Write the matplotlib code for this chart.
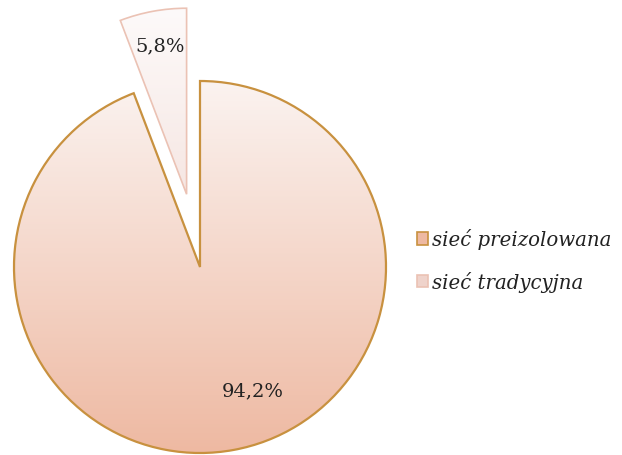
import numpy as np
import matplotlib.pyplot as plt
from matplotlib.patches import Patch

labels = ["sieć preizolowana", "sieć tradycyjna"]
shares = [94.2, 5.8]

edge_colors = ["#c8913f", "#ebc2b4"]
top_colors = ["#fbf3f0", "#fdfafa"]
bottom_colors = ["#eeb9a2", "#efd3cb"]

fig = plt.figure(figsize=(6.22, 4.56), dpi=100)
ax = fig.add_axes([0, 0, 1, 1])

cx, cy, R = 200, 188, 186
wedges, _ = ax.pie(shares, startangle=90, counterclock=False,
                   explode=[0, 74], center=(cx, cy), radius=R,
                   colors=["none", "none"], frame=True,
                   wedgeprops=dict(linewidth=1.6))
ax.set_xlim(0, 622)
ax.set_ylim(0, 456)
ax.set_aspect("equal")
ax.axis("off")
wedges[1].set_linewidth(1.2)


def hex2rgb(h):
    return np.array([int(h[i:i + 2], 16) / 255 for i in (1, 3, 5)])


for w, ec, c0, c1 in zip(wedges, edge_colors, top_colors, bottom_colors):
    w.set_edgecolor(ec)
    w.set_zorder(3)
    x0, y0 = w.center
    t = np.linspace(0, 1, 256)[:, None]
    grad = (1 - t) * hex2rgb(c0) + t * hex2rgb(c1)
    img = np.repeat(grad[:, None, :], 2, axis=1)
    im = ax.imshow(img, extent=(x0 - R, x0 + R, y0 - R, y0 + R),
                   origin="upper", aspect="auto", zorder=2)
    im.set_clip_path(w)

# percentage labels (distance as fraction of radius, angle in degrees)
label_pos = [(0.72, -67), (0.81, 100)]
for w, val, (d, ang) in zip(wedges, shares, label_pos):
    x0, y0 = w.center
    a = np.deg2rad(ang)
    ax.text(x0 + d * R * np.cos(a), y0 + d * R * np.sin(a),
            f"{val:.1f}%".replace(".", ","), ha="center", va="center",
            fontsize=14, family="DejaVu Serif", color="#222222", zorder=4)

handles = [Patch(facecolor=bottom_colors[i], edgecolor=edge_colors[i],
                 linewidth=1.2, label=labels[i]) for i in range(2)]
leg = ax.legend(handles=handles, loc="center left",
                bbox_to_anchor=(0.642, 0.427), frameon=False,
                prop=dict(family="DejaVu Serif", style="italic", size=14.2),
                handlelength=0.55, handleheight=0.6, handletextpad=0.2,
                labelspacing=1.1)
for t in leg.get_texts():
    t.set_color("#222222")

fig.savefig("out.png", dpi=100, facecolor="white")
